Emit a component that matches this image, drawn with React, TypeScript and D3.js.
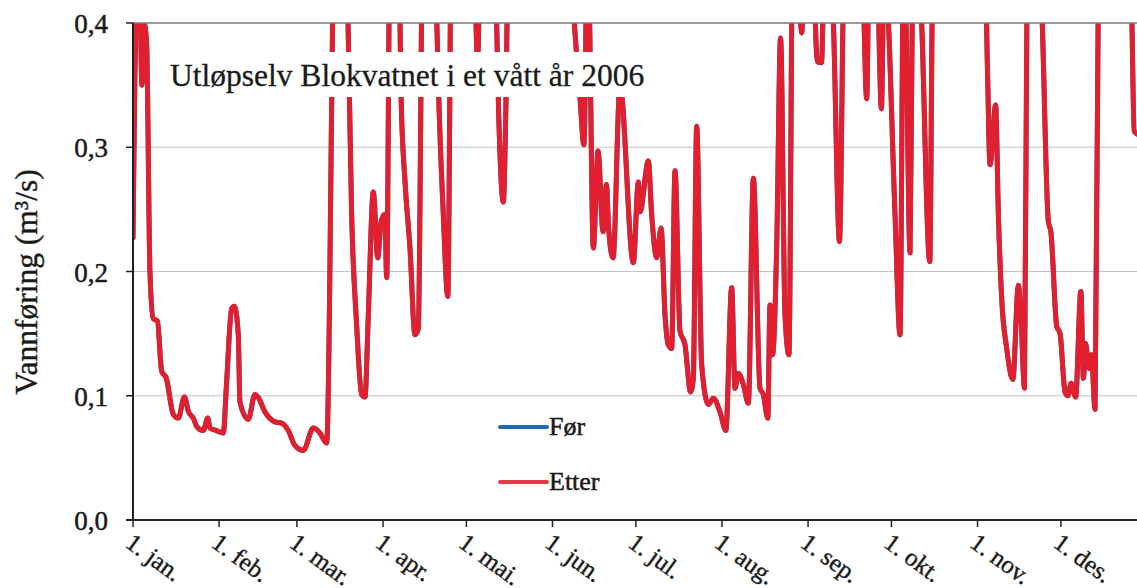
import * as d3 from "d3";

const width = 1137;
const height = 588;

// akse-inndeling
const monthDays = [0, 31, 59, 90, 120, 151, 181, 212, 243, 273, 304, 334];
const monthLabels = [
  "1. jan.", "1. feb.", "1. mar.", "1. apr.", "1. mai.", "1. jun.",
  "1. jul.", "1. aug.", "1. sep.", "1. okt.", "1. nov.", "1. des.",
];
const yTicks = [0, 0.1, 0.2, 0.3, 0.4];
const yTickLabels = ["0,0", "0,1", "0,2", "0,3", "0,4"];

// vannføring 2006, dag i året (0 = 1. jan.) og m3/s, lest av figuren
const flowDays = [
  0, 1.5, 2.5, 3.2, 4.0, 4.9, 6.1, 7.3, 8.8, 10.3,
  12.0, 14.5, 16.3, 18.5, 20.0, 21.7, 23.0, 25.3, 26.9, 27.7,
  30.0, 32.5, 33.7, 35.5, 36.5, 37.9, 38.5, 41.5, 43.9, 45.0,
  47.5, 51.1, 53.5, 55.9, 58.3, 61.3, 64.9, 67.3, 69.7, 72.5,
  74.5, 77.0, 78.7, 80.5, 82.3, 83.5, 84.7, 86.5, 88.1, 89.3,
  90.7, 91.3, 92.6, 94.5, 96.0, 96.5, 97.9, 99.7, 101.5, 102.7,
  104.3, 106.5, 109.0, 110.2, 111.7, 113.3, 114.6, 117, 121, 123.2,
  124.0, 124.8, 128, 130.6, 131.6, 133.3, 134.2, 135.2, 141, 150,
  157.5, 159.5, 160.9, 162.3, 163.6, 164.2, 165.7, 167.4, 169.2, 170.4,
  171.2, 172.8, 175.3, 180.1, 181.9, 182.5, 185.5, 186.7, 188.5, 190.1,
  191.5, 192.7, 193.9, 195.1, 196.9, 198.7, 200.7, 201.7, 202.9, 204.7,
  207.1, 208.9, 211.3, 213.4, 215.5, 216.7, 217.9, 219.7, 221.5, 223.3,
  225.7, 226.9, 228.5, 229.3, 230.2, 231.7, 233.1, 234.7, 236.1, 237.6,
  239.5, 240.7, 242, 245, 246.3, 247.8, 249, 251, 252.1, 254.3,
  255.9, 259, 262.8, 264.1, 265.0, 267.8, 269.4, 270.4, 271.3, 274.3,
  276.1, 277.3, 278.0, 279.7, 280.6, 282, 283.9, 286.8, 287.8, 292,
  300, 306.8, 307.6, 308.5, 310.5, 311.5, 312.7, 314.5, 316.7, 318.7,
  319.7, 320.9, 321.9, 324, 326.5, 327.3, 329.5, 330.4, 332.5, 333.7,
  335.5, 336.5, 337.7, 339.3, 341.2, 342.1, 342.9, 344.1, 345.0, 346.3,
  347.6, 351, 356, 359.4, 360.4, 362,
];
const etterValues = [
  0.227, 0.43, 0.42, 0.35, 0.40, 0.383, 0.20, 0.162, 0.160, 0.120,
  0.114, 0.085, 0.082, 0.099, 0.087, 0.082, 0.075, 0.072, 0.082, 0.074,
  0.072, 0.070, 0.111, 0.170, 0.172, 0.149, 0.095, 0.081, 0.101, 0.099,
  0.087, 0.079, 0.078, 0.072, 0.060, 0.056, 0.074, 0.070, 0.062, 0.50,
  0.60, 0.45, 0.246, 0.157, 0.101, 0.099, 0.165, 0.264, 0.211, 0.240,
  0.246, 0.195, 0.50, 0.55, 0.42, 0.34, 0.273, 0.219, 0.149, 0.154,
  0.48, 0.55, 0.43, 0.33, 0.246, 0.180, 0.48, 0.60, 0.55, 0.42,
  0.37, 0.43, 0.55, 0.43, 0.33, 0.256, 0.33, 0.48, 0.62, 0.58,
  0.44, 0.38, 0.34, 0.302, 0.46, 0.42, 0.219, 0.297, 0.232, 0.27,
  0.235, 0.211, 0.35, 0.207, 0.272, 0.248, 0.289, 0.246, 0.211, 0.235,
  0.165, 0.141, 0.138, 0.281, 0.152, 0.141, 0.103, 0.114, 0.317, 0.125,
  0.093, 0.098, 0.087, 0.072, 0.187, 0.106, 0.118, 0.109, 0.094, 0.275,
  0.106, 0.101, 0.082, 0.173, 0.133, 0.219, 0.388, 0.165, 0.133, 0.50,
  0.45, 0.392, 0.50, 0.44, 0.369, 0.368, 0.45, 0.44, 0.40, 0.224,
  0.45, 0.58, 0.43, 0.339, 0.45, 0.44, 0.331, 0.45, 0.43, 0.246,
  0.149, 0.43, 0.42, 0.215, 0.43, 0.50, 0.40, 0.208, 0.43, 0.62,
  0.56, 0.44, 0.36, 0.286, 0.334, 0.246, 0.178, 0.138, 0.113, 0.189,
  0.160, 0.106, 0.46, 0.60, 0.45, 0.40, 0.240, 0.232, 0.156, 0.150,
  0.103, 0.100, 0.110, 0.099, 0.184, 0.114, 0.142, 0.122, 0.133, 0.089,
  0.46, 0.62, 0.55, 0.42, 0.313, 0.31,
];
// Før-kurven ligger helt skjult under Etter-kurven i figuren
const forValues = etterValues;

const seriesNames = ["Før", "Etter"];
const seriesColors = ["#1f6bb8", "#e11f2e"];
const legendColors = ["#1f6bb8", "#df3d4b"];

const x = d3.scaleLinear().domain([0, 365]).range([133, 1147]);
const y = d3.scaleLinear().domain([0, 0.4]).range([520, 23]);

const lineGen = d3
  .line<number>()
  .x((_, i) => x(flowDays[i]))
  .y((v) => y(v))
  .curve(d3.curveMonotoneX);

const serif = "'Liberation Serif', 'Times New Roman', serif";
const ink = "#1a1a1a";

export default function App() {
  const plotLeft = x(0);
  const plotBottom = y(0);
  const plotTop = y(0.4);

  return (
    <svg
      width={width}
      height={height}
      style={{ position: "absolute", left: 0, top: 0, background: "#fff" }}
    >
      <defs>
        <clipPath id="plotClip">
          <rect x={plotLeft} y={plotTop} width={width - plotLeft} height={plotBottom - plotTop} />
        </clipPath>
      </defs>

      {/* rutenett */}
      {yTicks.slice(1, 4).map((t) => (
        <line key={t} x1={plotLeft} x2={width} y1={y(t)} y2={y(t)} stroke="#c4c4c4" strokeWidth={1.2} />
      ))}

      {/* kurver */}
      <g clipPath="url(#plotClip)" fill="none" strokeLinejoin="round" strokeLinecap="round">
        <path d={lineGen(forValues) ?? ""} stroke={seriesColors[0]} strokeWidth={5} />
        <path d={lineGen(etterValues) ?? ""} stroke={seriesColors[1]} strokeWidth={5} />
      </g>

      <line x1={plotLeft} x2={width} y1={plotTop} y2={plotTop} stroke="#7a7a7a" strokeWidth={1.6} />

      {/* tittel med hvit bakgrunn */}
      <rect x={160} y={52} width={495} height={45} fill="#fff" />
      <text
        x={170}
        y={86}
        fontSize={31.5}
        fontFamily={serif}
        fill={ink}
        stroke={ink}
        strokeWidth={0.3}
      >
        Utløpselv Blokvatnet i et vått år 2006
      </text>

      {/* y-akse */}
      <line x1={plotLeft} x2={plotLeft} y1={plotTop} y2={plotBottom} stroke="#222" strokeWidth={2} />
      {yTicks.map((t, i) => (
        <g key={t}>
          <line x1={plotLeft - 7} x2={plotLeft} y1={y(t)} y2={y(t)} stroke="#222" strokeWidth={1.5} />
          <text
            x={108}
            y={y(t) + 10}
            textAnchor="end"
            fontSize={27}
            fontFamily={serif}
            fill={ink}
            stroke={ink}
            strokeWidth={0.5}
          >
            {yTickLabels[i]}
          </text>
        </g>
      ))}
      <text
        transform={`translate(37, 282) rotate(-90)`}
        textAnchor="middle"
        fontSize={31.5}
        fontFamily={serif}
        fill={ink}
        stroke={ink}
        strokeWidth={0.4}
      >
        Vannføring (m³/s)
      </text>

      {/* x-akse */}
      <line x1={plotLeft - 7} x2={width} y1={plotBottom} y2={plotBottom} stroke="#222" strokeWidth={2} />
      {monthDays.map((d, i) => (
        <g key={d}>
          <line x1={x(d)} x2={x(d)} y1={plotBottom} y2={plotBottom + 7} stroke="#222" strokeWidth={1.5} />
          <text
            transform={`translate(${x(d) - 9}, 546) rotate(36)`}
            fontSize={25}
            fontFamily={serif}
            fill={ink}
            stroke={ink}
            strokeWidth={0.4}
          >
            {monthLabels[i]}
          </text>
        </g>
      ))}

      {/* forklaring */}
      {seriesNames.map((name, i) => (
        <g key={name} transform={`translate(500, ${427 + i * 55})`}>
          <line x1={0} x2={47} y1={0} y2={0} stroke={legendColors[i]} strokeWidth={4} strokeLinecap="round" />
          <text
            x={49}
            y={8}
            fontSize={26}
            fontFamily={serif}
            fill={ink}
            stroke={ink}
            strokeWidth={0.5}
          >
            {name}
          </text>
        </g>
      ))}
    </svg>
  );
}
